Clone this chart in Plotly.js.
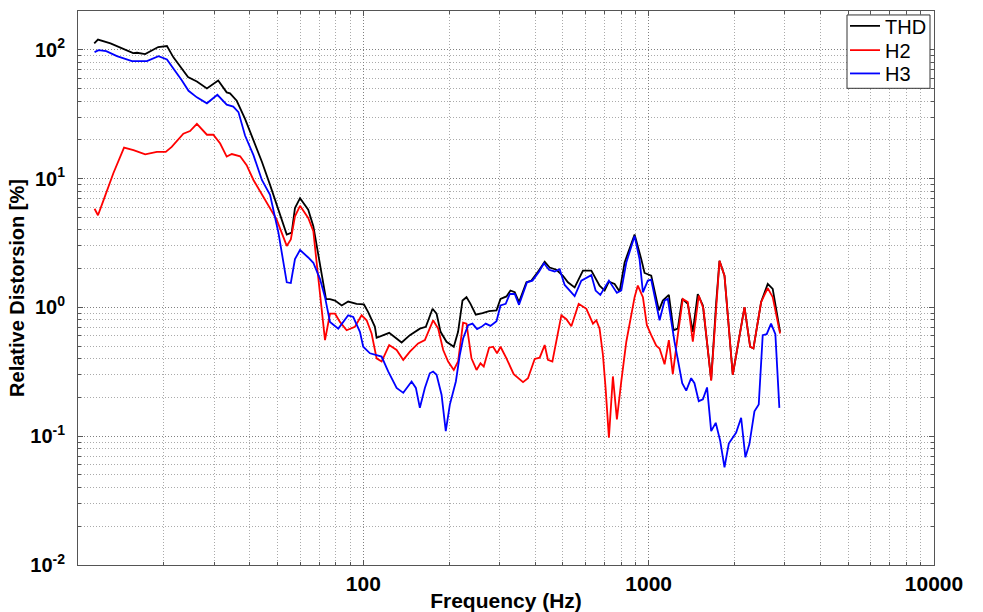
<!DOCTYPE html>
<html><head><meta charset="utf-8">
<script src="https://cdn.plot.ly/plotly-3.0.1.min.js"></script>
<style>html,body{margin:0;padding:0;background:#fff}#chart{width:983px;height:612px}</style>
</head><body><div id="chart"></div>
<script>
// Frequencies (Hz) and relative distortion (%)
const thdF = [11.4, 11.75, 13.0, 14.1, 15.6, 16.1, 17.2, 19.1, 20.5, 21.6,
  22.8, 24.3, 26.1, 28.3, 31.0, 33.2, 34.1, 36.0, 38.5, 41.1,
  44.1, 47.1, 51.1, 53.9, 56.1, 57.6, 60.0, 64.1, 66.8, 69.5,
  71.4, 74.0, 76.4, 79.6, 84.0, 88.5, 94.7, 100.5, 104, 109.8,
  111.3, 123.2, 136.2, 145.6, 157.8, 165.6, 174.8, 180.6, 186.5, 195.7,
  207.5, 214.8, 222.6, 229.9, 237.5, 247.8, 261.6, 275.9, 292.9, 302.5,
  317.4, 327.8, 339.3, 351.3, 372.9, 388.2, 409.3, 432.1, 449.8, 474.9,
  500.8, 521.2, 550.3, 588.5, 629.6, 673, 700.9, 725.6, 759.7, 790.9,
  823.6, 892.6, 942, 967.4, 1021, 1086, 1121, 1177, 1222, 1265,
  1311, 1371, 1428, 1486, 1549, 1612, 1656, 1725, 1771, 1844,
  1971, 2167, 2268, 2329, 2478, 2614, 2721, 2888];
const thdV = [112, 120, 112, 104, 94.2, 94.8, 92.5, 105, 107, 87.3,
  74.8, 61.5, 56.7, 50.1, 57.7, 46.7, 45.9, 40.2, 29.1, 20.4,
  13.5, 8.93, 5.25, 3.68, 3.80, 5.91, 7.05, 5.73, 4.27, 2.58,
  1.76, 1.16, 1.16, 1.13, 1.035, 1.11, 1.066, 1.054, 0.92, 0.706,
  0.581, 0.634, 0.534, 0.609, 0.684, 0.706, 0.975, 0.893, 0.646, 0.541,
  0.495, 0.646, 1.13, 1.2, 1.066, 0.877, 0.904, 0.937, 0.948, 1.164,
  1.216, 1.352, 1.31, 1.10, 1.566, 1.614, 1.892, 2.26, 2.04, 1.96,
  1.76, 1.566, 1.43, 1.93, 1.93, 1.476, 1.352, 1.585, 1.519, 1.327,
  2.23, 3.68, 2.37, 1.85, 1.76, 0.948, 1.13, 1.25, 0.665, 0.684,
  1.164, 1.066, 0.646, 1.27, 1.035, 0.48, 0.274, 1.10, 2.30, 1.76,
  0.30, 1.005, 0.495, 0.48, 1.10, 1.52, 1.39, 0.646];

const h2F = [11.43, 11.75, 12.3, 13.3, 14.5, 15.65, 17.2, 18.9, 20.3, 21.3,
  23.4, 24.7, 26.1, 28.3, 29.8, 31.5, 33.2, 34.6, 37.0, 39.0,
  41.2, 44.6, 49.7, 53.9, 55.7, 57.6, 60.0, 64.1, 66.8, 68.6,
  70.5, 73.4, 76.4, 79.6, 82.8, 87.4, 93.4, 98.6, 102.7, 106.9,
  111.3, 115.9, 123.2, 130.8, 138, 145.6, 155.6, 164.3, 175.6, 182.9,
  190.5, 198.2, 207.5, 214.8, 223.7, 229.9, 239.3, 249.3, 257.4, 264.3,
  275.9, 285, 294.2, 302.5, 317.4, 336.5, 362.8, 377.6, 398.6, 415,
  432.1, 443.6, 459.8, 494.3, 514.7, 535.8, 568.5, 604.9, 637.9, 655.6,
  673, 691.4, 706.3, 725.6, 749.3, 773.9, 801.7, 834.9, 892.6, 916.3,
  954.6, 985.6, 1021, 1063, 1092, 1137, 1177, 1215, 1265, 1317,
  1371, 1428, 1498, 1556, 1656, 1725, 1771, 1844, 1971, 2167,
  2268, 2329, 2478, 2614, 2721, 2888];
const h2V = [5.83, 5.19, 6.84, 11.0, 17.4, 16.6, 15.4, 16.1, 16.1, 17.6,
  22.3, 23.4, 26.6, 21.9, 21.9, 18.7, 14.8, 15.5, 14.9, 12.7,
  9.75, 7.27, 4.80, 3.0, 3.37, 5.10, 6.15, 4.95, 3.91, 2.23,
  1.27, 0.557, 0.893, 0.893, 0.771, 0.665, 0.706, 0.868, 0.794, 0.627,
  0.402, 0.380, 0.510, 0.467, 0.391, 0.453, 0.525, 0.557, 0.794, 0.684,
  0.467, 0.380, 0.327, 0.380, 0.762, 0.748, 0.402, 0.327, 0.368, 0.347,
  0.486, 0.495, 0.44, 0.495, 0.402, 0.303, 0.263, 0.282, 0.398, 0.407,
  0.51, 0.391, 0.380, 0.868, 0.809, 0.714, 1.066, 0.975, 0.748, 0.794,
  0.684, 0.427, 0.237, 0.0975, 0.291, 0.135, 0.266, 0.541, 1.2, 1.476,
  1.2, 0.727, 0.609, 0.504, 0.48, 0.362, 0.557, 0.303, 0.609, 1.164,
  1.10, 0.541, 1.237, 0.975, 0.27, 1.10, 2.30, 1.76, 0.30, 1.005,
  0.495, 0.48, 1.10, 1.41, 1.2, 0.627];

const h3F = [11.43, 11.81, 12.56, 13.69, 15.45, 17.44, 19.15, 20.5, 21.9, 23.1,
  24.4, 26.1, 28.3, 30.8, 33.2, 35.0, 36.5, 38.5, 41.2, 44.1,
  47.1, 50.4, 53.9, 55.7, 57.6, 60.0, 64.1, 66.8, 70.5, 73.4,
  76.4, 81.7, 88.5, 92.2, 97.3, 99.9, 105.5, 111.3, 115.9, 122.2,
  130.8, 138, 147.6, 152.8, 157.8, 164.3, 171, 175.6, 180.6, 188,
  194.5, 201, 211, 217.8, 223.7, 232.9, 241.3, 250.4, 259.4, 268.5,
  279, 292.9, 302.5, 315.5, 326, 339.3, 351.3, 374.7, 391.4, 412.7,
  429.6, 447.4, 468.4, 487.6, 507.7, 550.3, 580.8, 629.6, 651.7, 676.9,
  725.6, 773.9, 801.7, 834.9, 892.6, 929, 954.6, 993.2, 1021, 1092,
  1137, 1167, 1232, 1311, 1354, 1409, 1447, 1498, 1549, 1602,
  1656, 1718, 1781, 1844, 1909, 2026, 2109, 2183, 2254, 2348,
  2431, 2510, 2592, 2685, 2780, 2871];
const h3V = [95.8, 99.3, 97.6, 89.3, 81.7, 81.7, 89.3, 84.2, 68.4, 58.1,
  48.0, 42.7, 38.4, 44.7, 37.5, 36.2, 32.8, 21.6, 15.2, 9.75,
  7.48, 3.80, 1.566, 1.546, 2.37, 2.79, 2.44, 2.22, 1.66, 1.2,
  0.771, 0.684, 0.868, 0.842, 0.646, 0.495, 0.44, 0.427, 0.415, 0.318,
  0.237, 0.217, 0.266, 0.237, 0.166, 0.237, 0.308, 0.318, 0.30, 0.21,
  0.1095, 0.176, 0.266, 0.427, 0.573, 0.727, 0.748, 0.678, 0.706, 0.748,
  0.718, 0.78, 1.035, 1.066, 1.27, 1.27, 1.047, 1.566, 1.614, 1.892,
  2.20, 1.96, 1.90, 1.98, 1.493, 1.223, 1.614, 1.78, 1.35, 1.25,
  1.614, 1.296, 1.352, 2.23, 3.58, 2.37, 1.31, 1.614, 1.64, 0.794,
  1.13, 1.164, 0.541, 0.258, 0.226, 0.282, 0.258, 0.187, 0.193, 0.239,
  0.1095, 0.127, 0.092, 0.0573, 0.0877, 0.1067, 0.139, 0.0685, 0.0868, 0.156,
  0.176, 0.609, 0.62, 0.748, 0.62, 0.166];

const seriesNames = ['THD', 'H2', 'H3'];
const seriesColors = ['#000000', '#ff0000', '#0000ff'];
const xTickVals = [100, 1000, 10000];
const xTickText = ['100', '1000', '10000'];
const yTickVals = [0.01, 0.1, 1, 10, 100];
const yTickText = ['10<sup>-2</sup>', '10<sup>-1</sup>', '10<sup>0</sup>', '10<sup>1</sup>', '10<sup>2</sup>'];

function minorVals(lo, hi) {
  const out = [];
  for (let e = lo; e < hi; e++) for (let m = 2; m <= 9; m++) out.push(m * Math.pow(10, e));
  return out;
}

const FONT = 'Liberation Sans, Arial, Helvetica, sans-serif';
const axisCommon = {
  type: 'log', tickmode: 'array', ticks: 'inside', ticklen: 5, tickwidth: 1, tickcolor: '#555',
  mirror: 'allticks', showline: true, linecolor: '#555', linewidth: 1,
  showgrid: true, gridcolor: '#808080', gridwidth: 1, griddash: '1px,2px', zeroline: false
};
const minorCommon = {tickmode: 'array', ticks: 'inside', ticklen: 3, tickcolor: '#555',
  showgrid: true, gridcolor: '#aaaaaa', gridwidth: 1, griddash: '1px,2px'};

// legend geometry (paper coords)
const legLeft = (845 - 78) / 856, boxL = (847 - 78) / 856, boxR = (930 - 78) / 856;
const rowY = [21, 45.5, 69].map(p => 1 - (p - 6) / 559);

const traces = seriesNames.map((n, i) => ({
  x: [thdF, h2F, h3F][i], y: [thdV, h2V, h3V][i], name: n, type: 'scatter', mode: 'lines',
  line: {color: seriesColors[i], width: 1.8}, legend: i === 0 ? 'legend' : 'legend' + (i + 1)
}));

const legendOf = (i) => ({x: legLeft, y: rowY[i], xanchor: 'left', yanchor: 'middle',
  bgcolor: 'rgba(0,0,0,0)', borderwidth: 0, font: {family: FONT, size: 20, color: '#000'}, itemwidth: 30});

const layout = {
  width: 983, height: 612,
  margin: {l: 78, r: 49, t: 6, b: 47},
  paper_bgcolor: '#fff', plot_bgcolor: '#fff',
  showlegend: true,
  xaxis: Object.assign({}, axisCommon, {
    range: [1, 4], tickvals: xTickVals, ticktext: xTickText,
    tickfont: {family: FONT, size: 21, weight: 'bold', color: '#000'},
    title: {text: 'Frequency (Hz)', font: {family: FONT, size: 21, weight: 'bold', color: '#000'}, standoff: 0},
    minor: Object.assign({tickvals: minorVals(1, 4)}, minorCommon)
  }),
  yaxis: Object.assign({}, axisCommon, {
    range: [-2, Math.log10(200)], tickvals: yTickVals, ticktext: yTickText, ticklabelstandoff: 8,
    tickfont: {family: FONT, size: 20, weight: 'bold', color: '#000'},
    title: {text: 'Relative Distorsion [%]', font: {family: FONT, size: 20, weight: 'bold', color: '#000'}, standoff: 0},
    minor: Object.assign({tickvals: minorVals(-2, 3)}, minorCommon)
  }),
  legend: legendOf(0), legend2: legendOf(1), legend3: legendOf(2),
  shapes: [{type: 'rect', xref: 'paper', yref: 'paper', x0: boxL, x1: boxR,
            y0: 1 - (84 - 6) / 559, y1: 1 - (10 - 6) / 559,
            fillcolor: '#fff', line: {color: '#333', width: 1}, layer: 'above'}]
};

Plotly.newPlot('chart', traces, layout, {displayModeBar: false, staticPlot: true});
</script></body></html>
